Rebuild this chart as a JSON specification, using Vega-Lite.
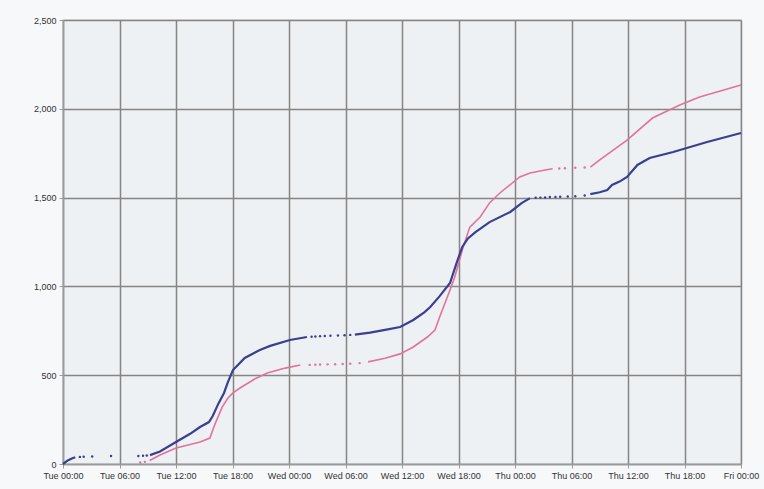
{
  "$schema": "https://vega.github.io/schema/vega-lite/v6.json",
  "width": 678,
  "height": 444,
  "autosize": {"type": "none"},
  "padding": {"left": 63, "top": 20, "right": 23, "bottom": 25},
  "background": "#f7f8fa",
  "config": {
    "view": {"fill": "#eef1f3", "stroke": "#d4d7db", "strokeWidth": 1.5},
    "axis": {
      "labelFont": "Liberation Sans",
      "labelFontSize": 9,
      "labelColor": "#333333",
      "domainColor": "#9a9a9a",
      "domainWidth": 1.5,
      "tickColor": "#9a9a9a",
      "tickSize": 4,
      "gridColor": "#858585",
      "gridWidth": 1.5,
      "gridOpacity": 1,
      "labelFlush": false,
      "labelBound": false,
      "title": null
    }
  },
  "data": {
    "values": [
      {"series": "Series 1", "kind": "line", "seg": "b1", "hours": 0, "count": 0},
      {"series": "Series 1", "kind": "line", "seg": "b1", "hours": 0.5, "count": 20},
      {"series": "Series 1", "kind": "line", "seg": "b1", "hours": 1.0, "count": 32},
      {"series": "Series 1", "kind": "line", "seg": "b1", "hours": 1.3, "count": 38},
      {"series": "Series 1", "kind": "dot", "seg": "bd1", "hours": 1.8, "count": 40},
      {"series": "Series 1", "kind": "dot", "seg": "bd1", "hours": 2.2, "count": 41},
      {"series": "Series 1", "kind": "dot", "seg": "bd1", "hours": 3.1, "count": 42},
      {"series": "Series 1", "kind": "dot", "seg": "bd1", "hours": 5.1, "count": 45},
      {"series": "Series 1", "kind": "dot", "seg": "bd1", "hours": 8.0, "count": 45},
      {"series": "Series 1", "kind": "dot", "seg": "bd1", "hours": 8.5, "count": 47},
      {"series": "Series 1", "kind": "dot", "seg": "bd1", "hours": 8.9, "count": 48},
      {"series": "Series 1", "kind": "line", "seg": "b2", "hours": 9.24, "count": 50},
      {"series": "Series 1", "kind": "line", "seg": "b2", "hours": 10.3, "count": 70},
      {"series": "Series 1", "kind": "line", "seg": "b2", "hours": 12.0, "count": 124},
      {"series": "Series 1", "kind": "line", "seg": "b2", "hours": 13.5, "count": 170},
      {"series": "Series 1", "kind": "line", "seg": "b2", "hours": 14.55, "count": 208},
      {"series": "Series 1", "kind": "line", "seg": "b2", "hours": 15.5, "count": 236},
      {"series": "Series 1", "kind": "line", "seg": "b2", "hours": 15.9, "count": 270},
      {"series": "Series 1", "kind": "line", "seg": "b2", "hours": 16.5, "count": 340},
      {"series": "Series 1", "kind": "line", "seg": "b2", "hours": 17.1, "count": 400},
      {"series": "Series 1", "kind": "line", "seg": "b2", "hours": 17.5, "count": 460},
      {"series": "Series 1", "kind": "line", "seg": "b2", "hours": 18.05, "count": 529},
      {"series": "Series 1", "kind": "line", "seg": "b2", "hours": 19.3, "count": 597},
      {"series": "Series 1", "kind": "line", "seg": "b2", "hours": 20.9, "count": 642},
      {"series": "Series 1", "kind": "line", "seg": "b2", "hours": 22.0, "count": 665},
      {"series": "Series 1", "kind": "line", "seg": "b2", "hours": 24.1, "count": 698},
      {"series": "Series 1", "kind": "line", "seg": "b2", "hours": 25.9, "count": 715},
      {"series": "Series 1", "kind": "dot", "seg": "bd2", "hours": 26.4, "count": 717},
      {"series": "Series 1", "kind": "dot", "seg": "bd2", "hours": 26.8, "count": 718},
      {"series": "Series 1", "kind": "dot", "seg": "bd2", "hours": 27.3, "count": 720},
      {"series": "Series 1", "kind": "dot", "seg": "bd2", "hours": 27.8, "count": 721},
      {"series": "Series 1", "kind": "dot", "seg": "bd2", "hours": 28.4, "count": 722},
      {"series": "Series 1", "kind": "dot", "seg": "bd2", "hours": 29.2, "count": 724},
      {"series": "Series 1", "kind": "dot", "seg": "bd2", "hours": 29.9, "count": 725},
      {"series": "Series 1", "kind": "dot", "seg": "bd2", "hours": 30.5, "count": 727},
      {"series": "Series 1", "kind": "line", "seg": "b3", "hours": 31.0, "count": 728},
      {"series": "Series 1", "kind": "line", "seg": "b3", "hours": 32.6, "count": 740},
      {"series": "Series 1", "kind": "line", "seg": "b3", "hours": 34.2, "count": 755},
      {"series": "Series 1", "kind": "line", "seg": "b3", "hours": 35.8, "count": 771},
      {"series": "Series 1", "kind": "line", "seg": "b3", "hours": 37.2, "count": 811},
      {"series": "Series 1", "kind": "line", "seg": "b3", "hours": 38.4, "count": 855},
      {"series": "Series 1", "kind": "line", "seg": "b3", "hours": 39.0, "count": 884},
      {"series": "Series 1", "kind": "line", "seg": "b3", "hours": 40.0, "count": 945},
      {"series": "Series 1", "kind": "line", "seg": "b3", "hours": 41.1, "count": 1019},
      {"series": "Series 1", "kind": "line", "seg": "b3", "hours": 41.8, "count": 1132},
      {"series": "Series 1", "kind": "line", "seg": "b3", "hours": 42.4, "count": 1222},
      {"series": "Series 1", "kind": "line", "seg": "b3", "hours": 43.0, "count": 1270},
      {"series": "Series 1", "kind": "line", "seg": "b3", "hours": 43.8, "count": 1306},
      {"series": "Series 1", "kind": "line", "seg": "b3", "hours": 45.3, "count": 1362},
      {"series": "Series 1", "kind": "line", "seg": "b3", "hours": 47.5, "count": 1419},
      {"series": "Series 1", "kind": "line", "seg": "b3", "hours": 48.7, "count": 1469},
      {"series": "Series 1", "kind": "line", "seg": "b3", "hours": 49.6, "count": 1497},
      {"series": "Series 1", "kind": "dot", "seg": "bd3", "hours": 50.2, "count": 1499},
      {"series": "Series 1", "kind": "dot", "seg": "bd3", "hours": 50.7, "count": 1500},
      {"series": "Series 1", "kind": "dot", "seg": "bd3", "hours": 51.2, "count": 1501},
      {"series": "Series 1", "kind": "dot", "seg": "bd3", "hours": 51.7, "count": 1503},
      {"series": "Series 1", "kind": "dot", "seg": "bd3", "hours": 52.3, "count": 1504},
      {"series": "Series 1", "kind": "dot", "seg": "bd3", "hours": 52.8, "count": 1505},
      {"series": "Series 1", "kind": "dot", "seg": "bd3", "hours": 53.6, "count": 1506},
      {"series": "Series 1", "kind": "dot", "seg": "bd3", "hours": 54.4, "count": 1508},
      {"series": "Series 1", "kind": "dot", "seg": "bd3", "hours": 55.4, "count": 1512},
      {"series": "Series 1", "kind": "line", "seg": "b4", "hours": 56.0, "count": 1520},
      {"series": "Series 1", "kind": "line", "seg": "b4", "hours": 57.0, "count": 1530},
      {"series": "Series 1", "kind": "line", "seg": "b4", "hours": 57.8, "count": 1543},
      {"series": "Series 1", "kind": "line", "seg": "b4", "hours": 58.3, "count": 1571},
      {"series": "Series 1", "kind": "line", "seg": "b4", "hours": 59.1, "count": 1590},
      {"series": "Series 1", "kind": "line", "seg": "b4", "hours": 59.9, "count": 1616},
      {"series": "Series 1", "kind": "line", "seg": "b4", "hours": 61.0, "count": 1684},
      {"series": "Series 1", "kind": "line", "seg": "b4", "hours": 62.3, "count": 1723},
      {"series": "Series 1", "kind": "line", "seg": "b4", "hours": 64.8, "count": 1757},
      {"series": "Series 1", "kind": "line", "seg": "b4", "hours": 66.6, "count": 1785},
      {"series": "Series 1", "kind": "line", "seg": "b4", "hours": 68.4, "count": 1813},
      {"series": "Series 1", "kind": "line", "seg": "b4", "hours": 70.3, "count": 1840},
      {"series": "Series 1", "kind": "line", "seg": "b4", "hours": 72.0, "count": 1864},

      {"series": "Series 2", "kind": "dot", "seg": "pd1", "hours": 8.2, "count": 8},
      {"series": "Series 2", "kind": "dot", "seg": "pd1", "hours": 8.7, "count": 12},
      {"series": "Series 2", "kind": "line", "seg": "p1", "hours": 9.2, "count": 20},
      {"series": "Series 2", "kind": "line", "seg": "p1", "hours": 10.3, "count": 51},
      {"series": "Series 2", "kind": "line", "seg": "p1", "hours": 12.0, "count": 90},
      {"series": "Series 2", "kind": "line", "seg": "p1", "hours": 13.5, "count": 110},
      {"series": "Series 2", "kind": "line", "seg": "p1", "hours": 14.55, "count": 124},
      {"series": "Series 2", "kind": "line", "seg": "p1", "hours": 15.6, "count": 146},
      {"series": "Series 2", "kind": "line", "seg": "p1", "hours": 16.1, "count": 220},
      {"series": "Series 2", "kind": "line", "seg": "p1", "hours": 16.9, "count": 320},
      {"series": "Series 2", "kind": "line", "seg": "p1", "hours": 17.5, "count": 370},
      {"series": "Series 2", "kind": "line", "seg": "p1", "hours": 18.05, "count": 400},
      {"series": "Series 2", "kind": "line", "seg": "p1", "hours": 18.8, "count": 428},
      {"series": "Series 2", "kind": "line", "seg": "p1", "hours": 20.4, "count": 480},
      {"series": "Series 2", "kind": "line", "seg": "p1", "hours": 21.7, "count": 512},
      {"series": "Series 2", "kind": "line", "seg": "p1", "hours": 23.6, "count": 540},
      {"series": "Series 2", "kind": "line", "seg": "p1", "hours": 25.2, "count": 557},
      {"series": "Series 2", "kind": "dot", "seg": "pd2", "hours": 26.2, "count": 558},
      {"series": "Series 2", "kind": "dot", "seg": "pd2", "hours": 26.8, "count": 559},
      {"series": "Series 2", "kind": "dot", "seg": "pd2", "hours": 27.3, "count": 560},
      {"series": "Series 2", "kind": "dot", "seg": "pd2", "hours": 28.1, "count": 561},
      {"series": "Series 2", "kind": "dot", "seg": "pd2", "hours": 28.9, "count": 562},
      {"series": "Series 2", "kind": "dot", "seg": "pd2", "hours": 29.7, "count": 563},
      {"series": "Series 2", "kind": "dot", "seg": "pd2", "hours": 30.5, "count": 565},
      {"series": "Series 2", "kind": "dot", "seg": "pd2", "hours": 31.5, "count": 568},
      {"series": "Series 2", "kind": "line", "seg": "p2", "hours": 32.4, "count": 575},
      {"series": "Series 2", "kind": "line", "seg": "p2", "hours": 34.2, "count": 595},
      {"series": "Series 2", "kind": "line", "seg": "p2", "hours": 35.8, "count": 620},
      {"series": "Series 2", "kind": "line", "seg": "p2", "hours": 37.2, "count": 659},
      {"series": "Series 2", "kind": "line", "seg": "p2", "hours": 38.7, "count": 715},
      {"series": "Series 2", "kind": "line", "seg": "p2", "hours": 39.5, "count": 754},
      {"series": "Series 2", "kind": "line", "seg": "p2", "hours": 40.0, "count": 828},
      {"series": "Series 2", "kind": "line", "seg": "p2", "hours": 41.1, "count": 980},
      {"series": "Series 2", "kind": "line", "seg": "p2", "hours": 41.6, "count": 1053},
      {"series": "Series 2", "kind": "line", "seg": "p2", "hours": 42.2, "count": 1166},
      {"series": "Series 2", "kind": "line", "seg": "p2", "hours": 42.5, "count": 1222},
      {"series": "Series 2", "kind": "line", "seg": "p2", "hours": 43.2, "count": 1334},
      {"series": "Series 2", "kind": "line", "seg": "p2", "hours": 44.3, "count": 1391},
      {"series": "Series 2", "kind": "line", "seg": "p2", "hours": 45.3, "count": 1470},
      {"series": "Series 2", "kind": "line", "seg": "p2", "hours": 46.4, "count": 1526},
      {"series": "Series 2", "kind": "line", "seg": "p2", "hours": 48.5, "count": 1616},
      {"series": "Series 2", "kind": "line", "seg": "p2", "hours": 49.6, "count": 1639},
      {"series": "Series 2", "kind": "line", "seg": "p2", "hours": 51.2, "count": 1655},
      {"series": "Series 2", "kind": "line", "seg": "p2", "hours": 52.0, "count": 1662},
      {"series": "Series 2", "kind": "dot", "seg": "pd3", "hours": 52.7, "count": 1664},
      {"series": "Series 2", "kind": "dot", "seg": "pd3", "hours": 53.3, "count": 1665},
      {"series": "Series 2", "kind": "dot", "seg": "pd3", "hours": 54.4, "count": 1668},
      {"series": "Series 2", "kind": "dot", "seg": "pd3", "hours": 55.4, "count": 1670},
      {"series": "Series 2", "kind": "line", "seg": "p3", "hours": 56.0, "count": 1672},
      {"series": "Series 2", "kind": "line", "seg": "p3", "hours": 57.0, "count": 1712},
      {"series": "Series 2", "kind": "line", "seg": "p3", "hours": 59.9, "count": 1824},
      {"series": "Series 2", "kind": "line", "seg": "p3", "hours": 62.6, "count": 1948},
      {"series": "Series 2", "kind": "line", "seg": "p3", "hours": 65.5, "count": 2021},
      {"series": "Series 2", "kind": "line", "seg": "p3", "hours": 67.6, "count": 2067},
      {"series": "Series 2", "kind": "line", "seg": "p3", "hours": 69.8, "count": 2100},
      {"series": "Series 2", "kind": "line", "seg": "p3", "hours": 72.0, "count": 2134}
    ]
  },
  "encoding": {
    "x": {
      "field": "hours",
      "type": "quantitative",
      "scale": {"domain": [0, 72], "nice": false, "zero": false},
      "axis": {
        "values": [0, 6, 12, 18, 24, 30, 36, 42, 48, 54, 60, 66, 72],
        "labelExpr": "['Tue','Wed','Thu','Fri'][floor(datum.value/24)] + ' ' + (datum.value % 24 < 10 ? '0' : '') + (datum.value % 24) + ':00'",
        "labelPadding": 3,
        "labelOverlap": false
      }
    },
    "y": {
      "field": "count",
      "type": "quantitative",
      "scale": {"domain": [0, 2500], "nice": false},
      "axis": {"values": [0, 500, 1000, 1500, 2000, 2500], "format": ",.0f", "labelPadding": 3}
    },
    "color": {
      "field": "series",
      "type": "nominal",
      "scale": {"domain": ["Series 1", "Series 2"], "range": ["#3b3f8f", "#e0739a"]},
      "legend": null
    }
  },
  "layer": [
    {
      "transform": [{"filter": "datum.kind === 'line' && datum.series === 'Series 2'"}],
      "mark": {"type": "line", "strokeWidth": 1.6},
      "encoding": {"detail": {"field": "seg"}}
    },
    {
      "transform": [{"filter": "datum.kind === 'line' && datum.series === 'Series 1'"}],
      "mark": {"type": "line", "strokeWidth": 2.2},
      "encoding": {"detail": {"field": "seg"}}
    },
    {
      "transform": [{"filter": "datum.kind === 'dot'"}],
      "mark": {"type": "point", "filled": true, "size": 6, "opacity": 1},
      "encoding": {}
    }
  ]
}
